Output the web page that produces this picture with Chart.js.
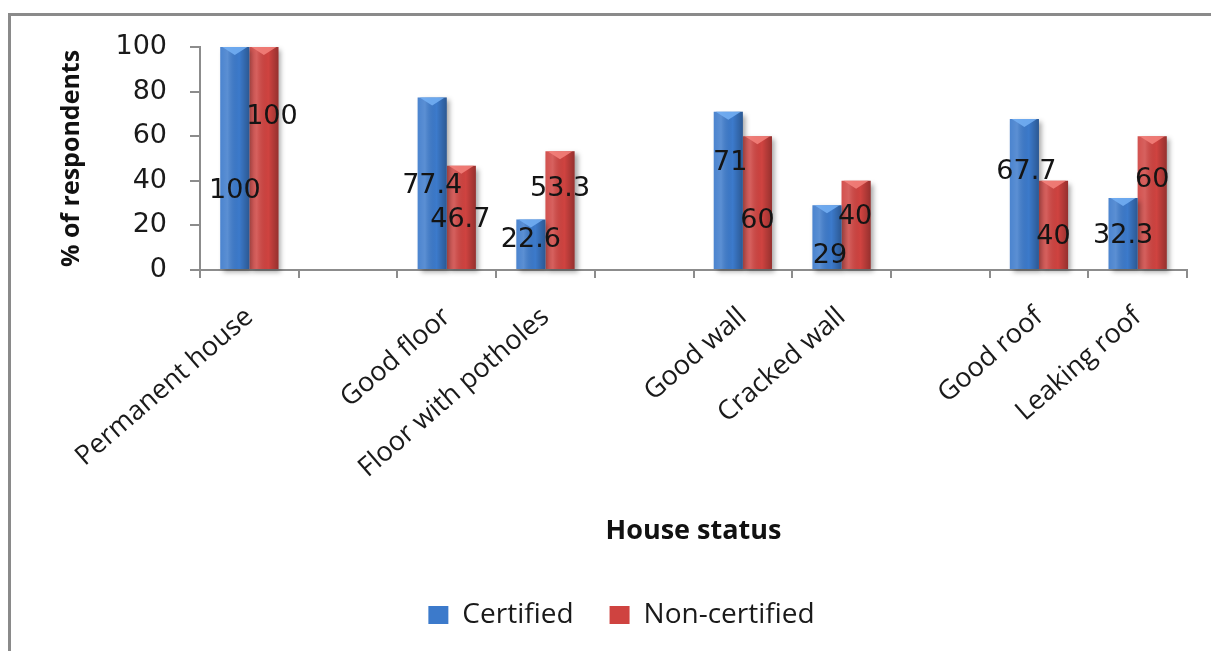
<!DOCTYPE html>
<html>
<head>
<meta charset="utf-8">
<script src="https://cdn.jsdelivr.net/npm/chart.js@4.4.1/dist/chart.umd.min.js"></script>
<style>
  html, body { margin: 0; padding: 0; background: #fff; overflow: hidden; }
  #wrap { width: 1211px; height: 651px; }
</style>
</head>
<body>
<div id="wrap"><canvas id="c" width="1211" height="651"></canvas></div>
<script>
// Housing condition by certification status (% of respondents)
const categories = ['Permanent house', '', 'Good floor', 'Floor with potholes', '', 'Good wall', 'Cracked wall', '', 'Good roof', 'Leaking roof'];
const certified = [100, null, 77.4, 22.6, null, 71, 29, null, 67.7, 32.3];
const nonCertified = [100, null, 46.7, 53.3, null, 60, 40, null, 40, 60];
const yTickValues = [0, 20, 40, 60, 80, 100];
const seriesNames = ['Certified', 'Non-certified'];

// styling
const seriesColors = ['#3c7acb', '#cf4340'];
const bevelColors = ['#74b0f4', '#f4827c'];
// value-label nudges, in px from each bar's top centre
const certLabelDx = [0, 0, 0, 0, 0, 2, 3, 0, 2, 0];
const certLabelDy = [144, 0, 89, 20, 0, 51, 51, 0, 53, 38];
const nonLabelDx = [8, 0, -1, 0, 0, 0, -1, 0, 0, 0];
const nonLabelDy = [70, 0, 54, 38, 0, 85, 36, 0, 56, 44];
const labelDx = [certLabelDx, nonLabelDx];
const labelDy = [certLabelDy, nonLabelDy];

const decor = {
  id: 'decor',
  beforeDraw(chart) {
    const ctx = chart.ctx;
    ctx.save();
    ctx.fillStyle = '#fff';
    ctx.fillRect(0, 0, chart.width, chart.height);
    // frame (top and left edges)
    ctx.strokeStyle = '#8a8a8a';
    ctx.lineWidth = 3;
    ctx.beginPath();
    ctx.moveTo(9.5, chart.height);
    ctx.lineTo(9.5, 14.5);
    ctx.lineTo(chart.width, 14.5);
    ctx.stroke();
    ctx.restore();
  },
  beforeDatasetsDraw(chart) {
    const ctx = chart.ctx;
    ctx.save();
    ctx.shadowColor = 'rgba(0,0,0,0.35)';
    ctx.shadowBlur = 5;
    ctx.shadowOffsetX = 3;
    ctx.shadowOffsetY = 3;
  },
  afterDatasetsDraw(chart) {
    const ctx = chart.ctx;
    ctx.restore();
    ctx.save();
    // shading on each bar
    chart.data.datasets.forEach((ds, di) => {
      const meta = chart.getDatasetMeta(di);
      meta.data.forEach((bar, i) => {
        if (ds.data[i] == null) return;
        const { x, y, base, width } = bar.getProps(['x', 'y', 'base', 'width'], true);
        const l = x - width / 2, r = x + width / 2;
        const g = ctx.createLinearGradient(l, 0, r, 0);
        g.addColorStop(0, 'rgba(255,255,255,0.08)');
        g.addColorStop(0.25, 'rgba(255,255,255,0.16)');
        g.addColorStop(0.65, 'rgba(0,0,0,0)');
        g.addColorStop(1, 'rgba(0,0,0,0.28)');
        ctx.fillStyle = g;
        ctx.fillRect(l, y, width, base - y);
        const b = Math.min(8, (base - y) / 2);
        ctx.globalAlpha = 0.85;
        ctx.fillStyle = bevelColors[di];
        ctx.beginPath();
        ctx.moveTo(l + 2, y);
        ctx.lineTo(r - 2, y);
        ctx.lineTo(x, y + b);
        ctx.closePath();
        ctx.fill();
        ctx.globalAlpha = 1;
      });
    });
    // value labels
    ctx.font = '27px "DejaVu Sans"';
    ctx.fillStyle = '#141414';
    ctx.textAlign = 'center';
    ctx.textBaseline = 'middle';
    chart.data.datasets.forEach((ds, di) => {
      const meta = chart.getDatasetMeta(di);
      meta.data.forEach((bar, i) => {
        const v = ds.data[i];
        if (v == null) return;
        const { x, y } = bar.getProps(['x', 'y'], true);
        ctx.fillText(String(v), x + labelDx[di][i], y + labelDy[di][i]);
      });
    });
    ctx.restore();
  }
};

new Chart(document.getElementById('c'), {
  type: 'bar',
  data: {
    labels: categories,
    datasets: [
      { label: seriesNames[0], data: certified, backgroundColor: seriesColors[0], borderWidth: 0, clip: false },
      { label: seriesNames[1], data: nonCertified, backgroundColor: seriesColors[1], borderWidth: 0, clip: false }
    ]
  },
  options: {
    responsive: false,
    animation: false,
    devicePixelRatio: 1,
    layout: { padding: { left: 56, right: 24, top: 47, bottom: 12 } },
    datasets: { bar: { barPercentage: 1, categoryPercentage: 0.59 } },
    plugins: {
      legend: {
        position: 'bottom',
        labels: {
          font: { family: 'Open Sans', size: 28 },
          color: '#1a1a1a',
          boxWidth: 20,
          boxHeight: 18,
          padding: 36
        }
      },
      tooltip: { enabled: false }
    },
    scales: {
      x: {
        offset: true,
        grid: { display: true, drawOnChartArea: false, offset: true, tickLength: 8, color: '#8c8c8c', lineWidth: 2 },
        border: { color: '#8c8c8c', width: 2 },
        ticks: {
          minRotation: 41, maxRotation: 41, autoSkip: false, padding: 23,
          color: '#1a1a1a',
          font: { family: 'Open Sans', size: 27 }
        },
        title: {
          display: true, text: 'House status', color: '#111',
          font: { family: 'Open Sans', size: 27, weight: 'bold' },
          padding: { top: 0, bottom: 17 }
        },
        afterFit(s) { s.height = 295; }
      },
      y: {
        min: 0, max: 100,
        afterBuildTicks(s) { s.ticks = yTickValues.map(v => ({ value: v })); },
        grid: { drawOnChartArea: false, tickLength: 10, color: '#8c8c8c', lineWidth: 2 },
        border: { color: '#8c8c8c', width: 2 },
        ticks: { padding: 23, color: '#1a1a1a', font: { family: 'DejaVu Sans', size: 27 } },
        title: {
          display: true, text: '% of respondents', color: '#111',
          font: { family: 'Open Sans', size: 25, weight: 'bold' },
          padding: { top: 1, bottom: 0 }
        },
        afterFit(s) { s.width = 144; }
      }
    }
  },
  plugins: [decor]
});
</script>
</body>
</html>
